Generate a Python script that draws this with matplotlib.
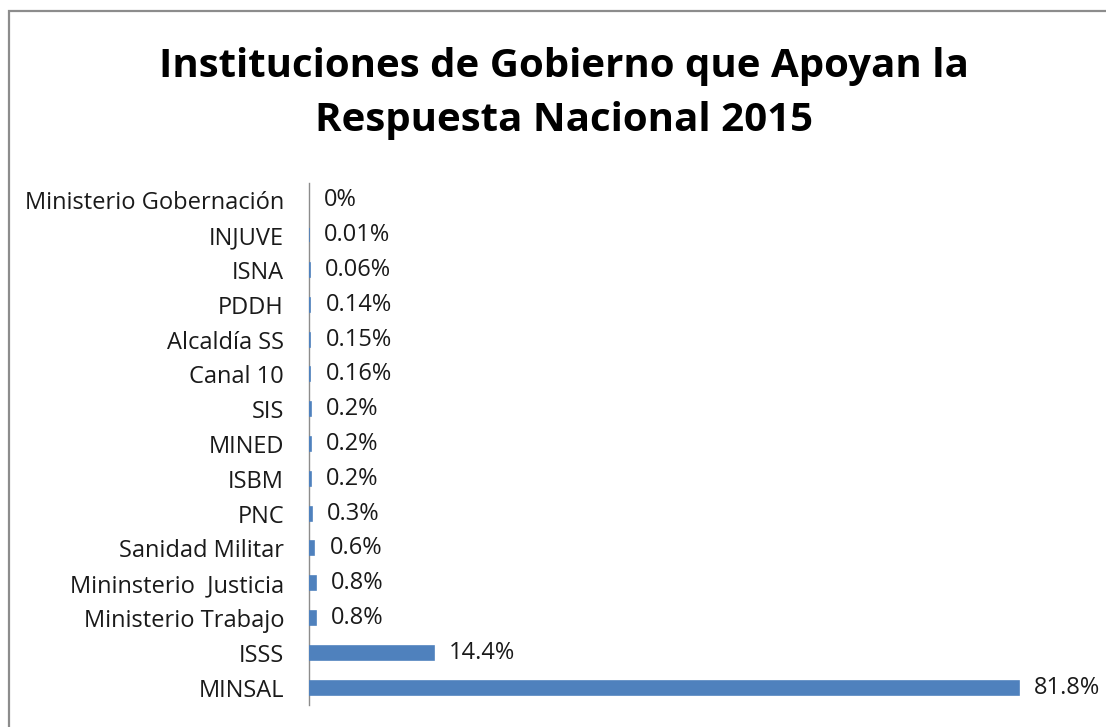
import matplotlib
matplotlib.use('Agg')
import matplotlib.pyplot as plt
from matplotlib.patches import Rectangle

institutions = ['Ministerio Gobernación', 'INJUVE', 'ISNA', 'PDDH', 'Alcaldía SS',
                'Canal 10', 'SIS', 'MINED', 'ISBM', 'PNC', 'Sanidad Militar',
                'Mininsterio  Justicia', 'Ministerio Trabajo', 'ISSS', 'MINSAL']
values = [0, 0.01, 0.06, 0.14, 0.15, 0.16, 0.2, 0.2, 0.2, 0.3, 0.6, 0.8, 0.8, 14.4, 81.8]
value_labels = ['0%', '0.01%', '0.06%', '0.14%', '0.15%', '0.16%', '0.2%', '0.2%',
                '0.2%', '0.3%', '0.6%', '0.8%', '0.8%', '14.4%', '81.8%']

plt.rcParams['font.family'] = ['Open Sans', 'DejaVu Sans']

W, H = 1106, 727
fig = plt.figure(figsize=(W / 100, H / 100), dpi=100)

# outer chart border (cut off at right and bottom like the original)
fig.patches.append(Rectangle((9 / W, -0.05), 1.2, 1 - 11 / H + 0.05,
                             transform=fig.transFigure, fill=False,
                             edgecolor='#8c8c8c', linewidth=1.6))

ax = fig.add_axes([309 / W, 1 - 705 / H, 781 / W, 522 / H])
pos = range(len(institutions))
# thin edge so the very small shares still show a sliver, as in Excel
edge_w = [0 if v == 0 else 1.2 for v in values]
ax.barh(pos, values, height=0.4, color='#4f81bd', edgecolor='#4f81bd',
        linewidth=edge_w, zorder=3)
ax.set_ylim(-0.5, len(institutions) - 0.5)
ax.invert_yaxis()
ax.set_xlim(0, 90)
ax.set_yticks(list(pos))
ax.set_yticklabels(institutions, fontsize=17, color='#1a1a1a')
ax.tick_params(axis='y', length=0, pad=18)
ax.set_xticks([])
for s in ['top', 'right', 'bottom']:
    ax.spines[s].set_visible(False)
ax.spines['left'].set_color('#8c8c8c')
ax.spines['left'].set_linewidth(1.0)
ax.spines['left'].set_zorder(1)

for i, (v, lab) in enumerate(zip(values, value_labels)):
    ax.annotate(lab, (v, i), xytext=(11, 0), textcoords='offset points',
                va='center', ha='left', fontsize=17, color='#1a1a1a')

fig.text(564 / W, 1 - 93 / H, 'Instituciones de Gobierno que Apoyan la\nRespuesta Nacional 2015',
         ha='center', va='center', fontsize=29, fontweight='bold',
         linespacing=1.5)

fig.savefig('out.png', dpi=100)
